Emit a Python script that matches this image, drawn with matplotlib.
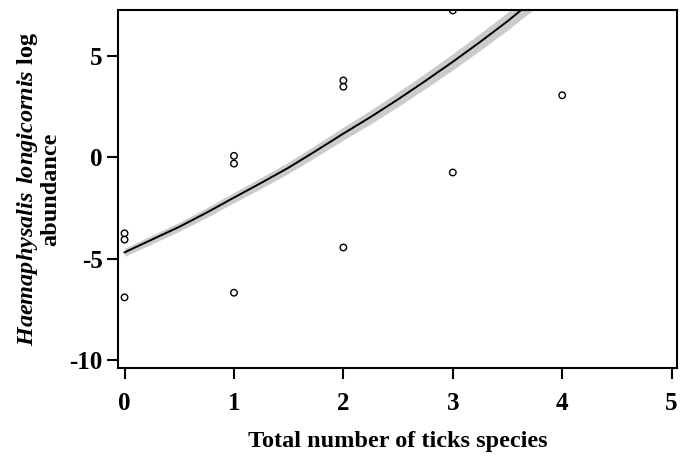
import matplotlib
matplotlib.use("Agg")
import matplotlib.pyplot as plt

plt.rcParams["font.family"] = ["Liberation Serif", "DejaVu Serif"]
plt.rcParams["font.weight"] = "bold"
plt.rcParams["axes.unicode_minus"] = False
plt.rcParams["mathtext.fontset"] = "custom"
plt.rcParams["mathtext.rm"] = "Liberation Serif:bold"
plt.rcParams["mathtext.bf"] = "Liberation Serif:bold"
plt.rcParams["mathtext.bfit"] = "Liberation Serif:italic:bold"

# observed points
species_n = [0, 0, 0, 1, 1, 1, 2, 2, 2, 3, 3, 4]
log_abund = [-3.74, -4.05, -6.9, 0.08, -0.3, -6.67, 3.8, 3.49, -4.44, 7.25, -0.74, 3.07]

# fitted curve and its band (runs out past the top)
fit_x = [0, 0.25, 0.5, 0.75, 1, 1.25, 1.5, 1.75, 2, 2.25, 2.5, 2.75, 3, 3.25, 3.5, 3.62, 3.8]
fit_y = [-4.68, -4.05, -3.42, -2.72, -1.98, -1.25, -0.5, 0.33, 1.18, 2.0, 2.87,
         3.78, 4.72, 5.7, 6.72, 7.25, 8.0]
band_w = [0.2, 0.21, 0.22, 0.24, 0.25, 0.27, 0.28, 0.3, 0.32, 0.34, 0.36, 0.38,
          0.4, 0.42, 0.44, 0.45, 0.46]

x_ticks = [0, 1, 2, 3, 4, 5]
y_ticks = [-10, -5, 0, 5]

fig = plt.figure(figsize=(6.86, 4.59), dpi=100)
ax = fig.add_axes([0.172, 0.198, 0.815, 0.78])

lo = [y - w for y, w in zip(fit_y, band_w)]
hi = [y + w for y, w in zip(fit_y, band_w)]
ax.fill_between(fit_x, lo, hi, color="#cbcbcb", lw=0, zorder=1)
ax.plot(fit_x, fit_y, color="black", lw=1.4, zorder=2)
ax.scatter(species_n, log_abund, s=22, facecolors="none", edgecolors="black",
           linewidths=1.0, zorder=3)

ax.set_xlim(-0.06, 5.05)
ax.set_ylim(-10.39, 7.27)
ax.set_xticks(x_ticks)
ax.set_yticks(y_ticks)
ax.tick_params(axis="both", direction="out", length=8, width=1.5, labelsize=18, pad=3)
ax.tick_params(axis="x", pad=9)
for s in ax.spines.values():
    s.set_linewidth(1.5)

ax.set_xlabel("Total number of ticks species", fontsize=17.5, fontweight="bold", labelpad=12)
ax.set_ylabel(r"$\mathbfit{Haemaphysalis\ longicornis}$ log" + "\nabundance",
              fontsize=17.5, fontweight="bold", labelpad=6, linespacing=1.0)

fig.savefig("out.png", dpi=100)
